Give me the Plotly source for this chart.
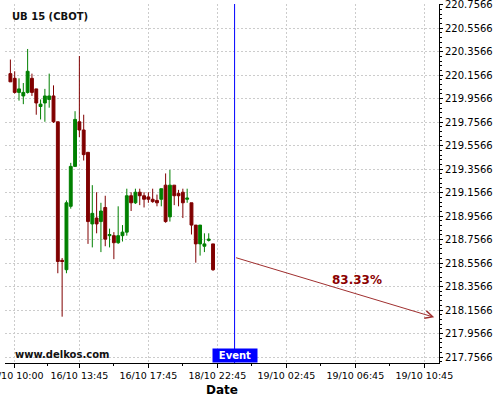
import plotly.graph_objects as go

# 15-minute candles (index positions on a gap-free time axis)
opens = [220.17, 220.13, 220.01, 219.98, 220.01, 220.13, 220.04, 219.89, 219.92, 219.95,
         219.98, 219.76, 218.58, 218.50, 219.04, 219.38, 219.76, 219.69, 219.50, 218.89,
         218.94, 218.91, 219.03, 218.79, 218.79, 218.73, 218.79, 218.82, 219.13, 219.07,
         219.16, 219.13, 219.12, 219.10, 219.09, 219.10, 219.22, 218.95, 219.22, 219.15,
         219.16, 219.10, 219.07, 218.88, 218.72, 218.70, 218.75, 218.72]
highs = [220.29, 220.19, 220.13, 220.09, 220.38, 220.17, 220.04, 219.95, 220.04, 220.17,
         220.07, 219.76, 218.60, 219.09, 219.41, 219.85, 220.32, 219.82, 219.50, 219.22,
         219.16, 219.07, 219.13, 218.85, 218.82, 219.04, 218.88, 219.19, 219.16, 219.19,
         219.19, 219.16, 219.16, 219.19, 219.14, 219.19, 219.32, 219.35, 219.22, 219.18,
         219.19, 219.19, 219.07, 218.88, 218.88, 218.81, 218.81, 218.72]
lows = [220.10, 220.00, 219.94, 219.91, 220.00, 219.98, 219.82, 219.78, 219.76, 219.88,
        219.75, 218.47, 218.10, 218.47, 219.02, 219.38, 219.63, 219.43, 218.72, 218.69,
        218.81, 218.65, 218.70, 218.69, 218.59, 218.72, 218.74, 218.79, 219.00, 219.06,
        219.05, 219.03, 219.07, 219.07, 219.04, 219.04, 218.90, 218.91, 219.05, 219.04,
        218.94, 219.07, 218.80, 218.56, 218.62, 218.65, 218.74, 218.49]
closes = [220.10, 220.01, 220.04, 220.01, 220.19, 220.01, 219.92, 219.91, 219.98, 219.98,
          219.76, 218.57, 218.57, 219.07, 219.38, 219.78, 219.69, 219.48, 218.91, 218.98,
          218.89, 219.00, 218.76, 218.80, 218.73, 218.79, 218.82, 219.13, 219.07, 219.16,
          219.13, 219.10, 219.10, 219.08, 219.07, 219.19, 218.91, 219.22, 219.13, 219.13,
          219.07, 219.11, 218.88, 218.72, 218.88, 218.72, 218.76, 218.50]
candle_index = list(range(len(opens)))

tick_index = [1, 16, 32, 48, 64, 80, 96]
tick_labels = ["16/10 10:00", "16/10 13:45", "16/10 17:45", "18/10 22:45",
               "19/10 02:45", "19/10 06:45", "19/10 10:45"]

event_index = 52
forecast_start = 218.606
forecast_end_index = 98.3
forecast_end = 218.095
forecast_label = "83.33%"
label_index = 80.5
label_value = 218.409

y_first_tick = 217.7566
y_tick_step = 0.2

RED = "#800000"
GREEN = "#008000"

fig = go.Figure()
fig.add_trace(go.Candlestick(
    x=candle_index, open=opens, high=highs, low=lows, close=closes,
    increasing=dict(fillcolor=GREEN, line=dict(color=GREEN, width=1)),
    decreasing=dict(fillcolor=RED, line=dict(color=RED, width=1)),
    whiskerwidth=0, showlegend=False, hoverinfo="skip",
))

minor_x = [(a + b) / 2 for a, b in zip(tick_index[:-1], tick_index[1:])]

fig.add_shape(type="line", x0=event_index, x1=event_index, xref="x",
              y0=0, y1=1, yref="paper", line=dict(color="#0000ff", width=1))

fig.add_annotation(x=forecast_end_index, y=forecast_end, ax=event_index, ay=forecast_start,
                   xref="x", yref="y", axref="x", ayref="y", text="",
                   showarrow=True, arrowhead=5, arrowsize=1.5, arrowwidth=1,
                   arrowcolor="#a03030")
fig.add_annotation(x=label_index, y=label_value, xref="x", yref="y", text="<b>" + forecast_label + "</b>",
                   showarrow=False, font=dict(size=12, color="#8b0000"))
fig.add_annotation(x=event_index, y=0, xref="x", yref="paper", yanchor="bottom",
                   text="<b>Event</b>", showarrow=False, bgcolor="#0000ff",
                   font=dict(size=10, color="white"), width=44, height=13, borderpad=0)
fig.add_annotation(x=0.011, y=1, xref="paper", yref="paper", xanchor="left", yanchor="top",
                   yshift=-5, text="<b>UB 15 (CBOT)</b>", showarrow=False,
                   font=dict(size=10, color="#111111"))
fig.add_annotation(x=0.018, y=0.025, xref="paper", yref="paper", xanchor="left", yanchor="middle",
                   text="<b>www.delkos.com</b>", showarrow=False,
                   font=dict(size=10, color="#111111"))

fig.update_layout(
    width=500, height=400,
    margin=dict(l=5, r=61, t=4, b=37),
    paper_bgcolor="white", plot_bgcolor="white",
    font=dict(family="DejaVu Sans", size=10, color="#000000"),
    boxgap=0.05,
    showlegend=False,
)
fig.update_xaxes(
    range=[-1.25, 99.41], rangeslider_visible=False,
    tickmode="array", tickvals=tick_index, ticktext=tick_labels,
    ticks="outside", ticklen=4, tickcolor="black", tickfont=dict(size=9.5),
    ticklabeloverflow="allow",
    showline=True, linecolor="black", linewidth=1, mirror=False,
    showgrid=True, gridcolor="#cccccc", griddash="2px,2px", gridwidth=1,
    zeroline=False, automargin=False,
    minor=dict(tickmode="array", tickvals=minor_x, ticks="outside", ticklen=2, tickcolor="black", showgrid=False),
    title=dict(text="<b>Date</b>", font=dict(size=12), standoff=5),
)
fig.update_yaxes(
    range=[217.7055, 220.763], side="right",
    tickmode="linear", tick0=y_first_tick, dtick=y_tick_step, tickformat=".4f",
    ticks="outside", ticklen=3, tickcolor="black", tickfont=dict(size=10),
    ticklabeloverflow="allow",
    showline=True, linecolor="black", linewidth=1,
    showgrid=True, gridcolor="#cccccc", griddash="2px,2px", gridwidth=1,
    zeroline=False, automargin=False,
    minor=dict(dtick=0.04, tick0=y_first_tick, ticks="outside", ticklen=2, tickcolor="black", showgrid=False),
)

fig.write_html("out.html", config={"displayModeBar": False},
               post_script="document.body.style.margin='0';")
